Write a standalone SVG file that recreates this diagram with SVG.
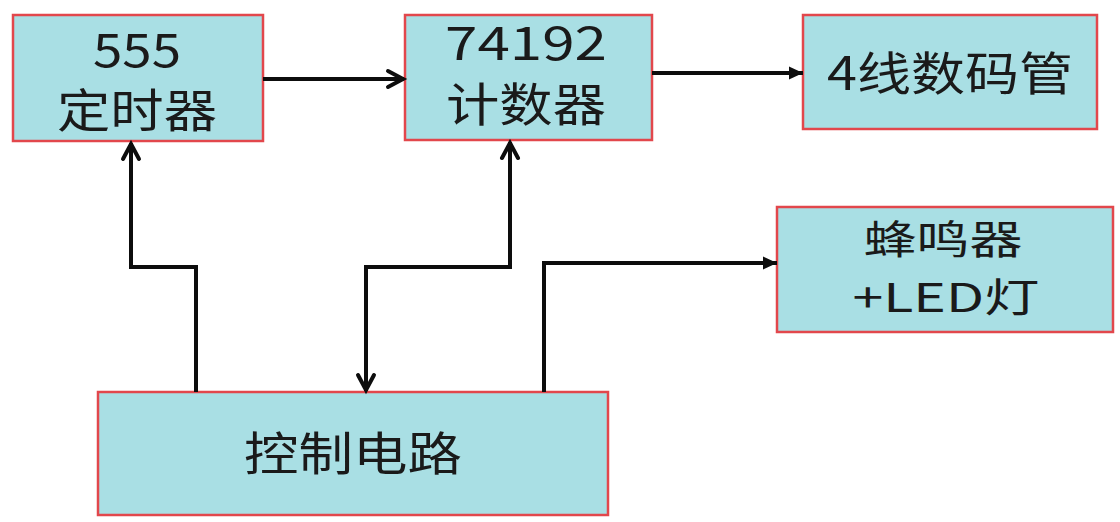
<svg xmlns="http://www.w3.org/2000/svg" width="1120" height="522" viewBox="0 0 1120 522">
  <style>
    .box { fill: #a9dfe4; stroke: #e2474c; stroke-width: 2.5; }
    .lbl { font-family: "Noto Sans CJK SC", "Noto Sans", sans-serif; font-size: 46px; fill: #1a1a1a; text-anchor: middle; }
    .sm { font-size: 40px; }
    .wire { fill: none; stroke: #0d0d0d; stroke-width: 4; stroke-linejoin: miter; }
  </style>
  <defs>
    <marker id="openArrow" markerUnits="userSpaceOnUse" markerWidth="24" markerHeight="24" viewBox="-20 -12 24 24" refX="0" refY="0" orient="auto-start-reverse">
      <path d="M-16,-8 L-1,0 L-16,8" fill="none" stroke="#0d0d0d" stroke-width="4" stroke-linecap="round" stroke-linejoin="miter"/>
    </marker>
    <marker id="solidArrow" markerUnits="userSpaceOnUse" markerWidth="20" markerHeight="20" viewBox="-16 -10 20 20" refX="0" refY="0" orient="auto">
      <path d="M-14,-6.5 L0,0 L-14,6.5 Z" fill="#0d0d0d"/>
    </marker>
  </defs>
  <rect width="1120" height="522" fill="#ffffff"/>

  <g id="node-555">
    <rect class="box" x="13" y="15" width="250" height="126"/>
    <text class="lbl" x="137" y="67" textLength="88" lengthAdjust="spacingAndGlyphs">555</text>
    <text class="lbl" x="137" y="127" textLength="160" lengthAdjust="spacingAndGlyphs">定时器</text>
  </g>

  <g id="node-74192">
    <rect class="box" x="405" y="15" width="247" height="125"/>
    <text class="lbl" x="526" y="60" textLength="162" lengthAdjust="spacingAndGlyphs">74192</text>
    <text class="lbl" x="526" y="121" textLength="160" lengthAdjust="spacingAndGlyphs">计数器</text>
  </g>

  <g id="node-display">
    <rect class="box" x="803" y="15" width="294" height="114"/>
    <text class="lbl" x="950" y="90" textLength="246" lengthAdjust="spacingAndGlyphs">4线数码管</text>
  </g>

  <g id="node-buzzer">
    <rect class="box" x="777" y="207" width="336" height="125"/>
    <text class="lbl sm" x="943" y="254" textLength="159" lengthAdjust="spacingAndGlyphs">蜂鸣器</text>
    <text class="lbl sm" x="946" y="312" textLength="187" lengthAdjust="spacingAndGlyphs">+LED灯</text>
  </g>

  <g id="node-control">
    <rect class="box" x="98" y="392" width="510" height="123"/>
    <text class="lbl" x="353" y="470" textLength="218" lengthAdjust="spacingAndGlyphs">控制电路</text>
  </g>

  <g id="connectors">
    <path class="wire" d="M263,79 H404" marker-end="url(#openArrow)"/>
    <path class="wire" d="M652,73 H803" marker-end="url(#solidArrow)"/>
    <path class="wire" d="M196,392 V267 H131 V143" marker-end="url(#openArrow)"/>
    <path class="wire" d="M366,391 V267 H510 V142" marker-start="url(#openArrow)" marker-end="url(#openArrow)"/>
    <path class="wire" d="M544,392 V263 H777" marker-end="url(#solidArrow)"/>
  </g>
</svg>
